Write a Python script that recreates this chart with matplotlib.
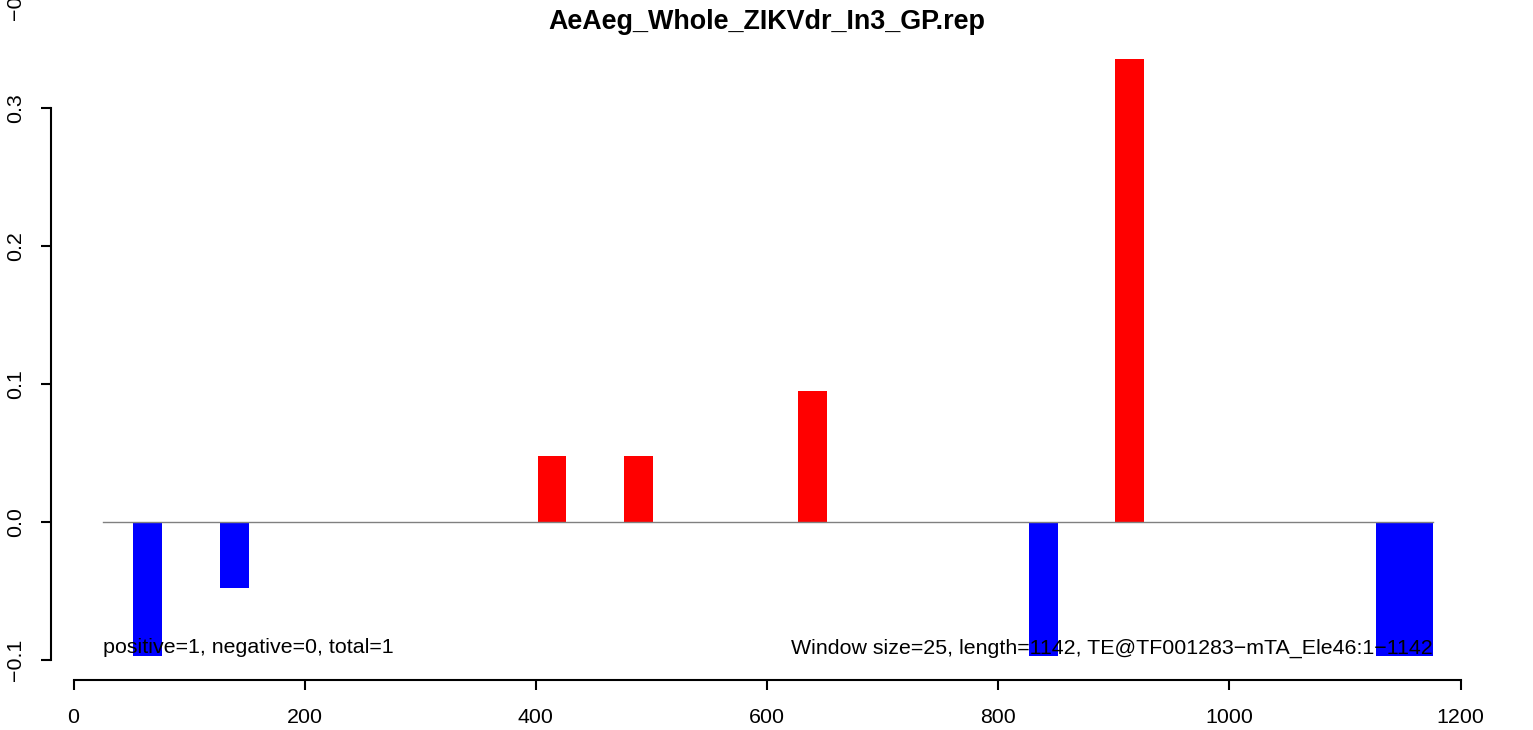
import matplotlib
matplotlib.use("Agg")
import matplotlib.pyplot as plt

plt.rcParams['font.family'] = ['Liberation Sans', 'DejaVu Sans']

title = "AeAeg_Whole_ZIKVdr_In3_GP.rep"
window = 25
win_start = [51.5, 126.5, 401.5, 476.5, 626.5, 826.5, 901.5, 1126.5, 1151.5]
win_value = [-0.097, -0.048, 0.048, 0.048, 0.095, -0.097, 0.3355, -0.097, -0.097]
seq_start = 25.5
seq_end = 1176
xticks = [0, 200, 400, 600, 800, 1000, 1200]
yticks = [-0.1, 0.0, 0.1, 0.2, 0.3]
left_note = "positive=1, negative=0, total=1"
right_note = "Window size=25, length=1142, TE@TF001283\u2212mTA_Ele46:1\u22121142"

W, H = 1533, 730
fig = plt.figure(figsize=(W/100, H/100), dpi=100)
ax = fig.add_axes([73.5/W, (H-660)/H, 1387/W, (660-39)/H])
ax.set_xlim(0, 1200)
ax.set_ylim(-0.1, 0.35)

colors = ['red' if v > 0 else 'blue' for v in win_value]
ax.bar(win_start, win_value, width=window, align='edge', color=colors,
       linewidth=0, zorder=2)
ax.plot([seq_start, seq_end], [0, 0], color='#808080', lw=1, zorder=3)

fs = 15.4
ax.text(seq_start, -0.0913, left_note, ha='left', va='center', fontsize=fs, zorder=4)
ax.text(seq_end, -0.0913, right_note, ha='right', va='center', fontsize=fs, zorder=4)

for s in ['top', 'right']:
    ax.spines[s].set_visible(False)
ax.spines['bottom'].set_position(('outward', 20*0.72))
ax.spines['left'].set_position(('outward', 23*0.72))
ax.spines['bottom'].set_bounds(0, 1200)
ax.spines['left'].set_bounds(-0.1, 0.3)
for s in ['bottom', 'left']:
    ax.spines[s].set_linewidth(1.5)
ax.set_xticks(xticks)
ax.set_xticklabels([str(t) for t in xticks])
ax.set_yticks(yticks)
ax.set_yticklabels([f"{t:.1f}".replace('-', '\u2212') for t in yticks],
                   rotation=90, va='center')
ax.tick_params(axis='both', direction='out', length=7*0.72*1.4, width=1.5,
               labelsize=fs)
ax.tick_params(axis='x', pad=13)
ax.tick_params(axis='y', pad=11)

fig.text(767/W, 1 - 22/H, title, ha='center', va='center', fontsize=19.4,
         fontweight='bold')
fig.text(15/W, 1 - 20/H, "\u22120.1", rotation=90, ha='center', va='bottom',
         fontsize=fs)

fig.savefig("out.png", dpi=100)
